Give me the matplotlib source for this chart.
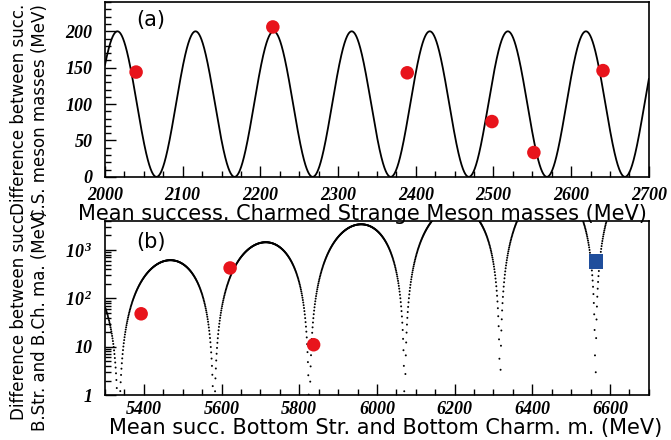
import numpy as np
import matplotlib
matplotlib.use("Agg")
import matplotlib.pyplot as plt
from matplotlib.ticker import MultipleLocator, FixedLocator, NullFormatter

plt.rcParams['mathtext.fontset'] = 'custom'
plt.rcParams['mathtext.rm'] = 'Liberation Serif:bold:italic'
plt.rcParams['mathtext.it'] = 'Liberation Serif:bold:italic'

# charmed strange mesons: mean mass vs mass difference
cs_mean = [2040, 2216, 2389, 2498, 2552, 2641]
cs_diff = [144, 206, 143, 76, 33.5, 146]

# bottom strange / bottom charm mesons
bs_mean = [5393, 5622, 5837]
bs_diff = [48, 425, 11]
bc_mean = [6564]
bc_diff = [575]

# model curve parameters (peak height, period, first peak / first zero)
cs_amp = 200.0
cs_period = 100.5
cs_peak = 2016.0

b_period = 245.5
b_zero = 5335.0
b_ref = 5465.0
b_amp_ref = 620.0
b_growth = 2.35   # peak ratio between neighbouring arches

tick_size = 13
xlab_size = 15
ylab_size = 12

fig = plt.figure(figsize=(6.71, 4.40), dpi=100)
ax1 = fig.add_axes([0.1565, 0.598, 0.8105, 0.397])
ax2 = fig.add_axes([0.1565, 0.102, 0.8105, 0.396])

# (a)
x = np.linspace(2000, 2700, 3000)
y = cs_amp * np.cos(np.pi * (x - cs_peak) / cs_period) ** 2
ax1.plot(x, y, color='black', lw=1.3)
ax1.scatter(cs_mean, cs_diff, s=95, color='#e8141c', zorder=3, edgecolors='none')
ax1.set_xlim(2000, 2700)
ax1.set_ylim(0, 240)
ax1.xaxis.set_major_locator(MultipleLocator(100))
ax1.xaxis.set_minor_locator(MultipleLocator(25))
ax1.yaxis.set_major_locator(FixedLocator([0, 50, 100, 150, 200]))
ax1.yaxis.set_minor_locator(MultipleLocator(10))
ax1.text(0.085, 0.9, '(a)', transform=ax1.transAxes, fontsize=15, ha='center', va='center')

# (b)
xb = np.arange(5300.3, 6700, 1.0)
amp = b_amp_ref * np.exp(np.log(b_growth) * (xb - b_ref) / b_period)
yb = amp * np.sin(np.pi * (xb - b_zero) / b_period) ** 2
ax2.scatter(xb, yb, s=2.0, color='black', edgecolors='none')
ax2.scatter(bs_mean, bs_diff, s=95, color='#e8141c', zorder=3, edgecolors='none')
ax2.scatter(bc_mean, bc_diff, s=110, marker='s', color='#1f4e9c', zorder=3, edgecolors='none')
ax2.set_yscale('log')
ax2.set_xlim(5300, 6700)
ax2.set_ylim(1, 4000)
ax2.xaxis.set_major_locator(MultipleLocator(200))
ax2.xaxis.set_minor_locator(MultipleLocator(50))
ax2.yaxis.set_major_locator(FixedLocator([1, 10, 100, 1000]))
ax2.yaxis.set_minor_locator(FixedLocator([m * 10 ** e for e in range(0, 4) for m in range(2, 10)]))
ax2.yaxis.set_minor_formatter(NullFormatter())
ax2.set_yticklabels(['1', '10', '10$^{\\,2}$', '10$^{\\,3}$'])
ax2.text(0.085, 0.88, '(b)', transform=ax2.transAxes, fontsize=15, ha='center', va='center')

for ax in (ax1, ax2):
    ax.tick_params(which='both', direction='in', top=False, right=False)
    ax.tick_params(which='major', length=8, width=1)
    ax.tick_params(which='minor', length=4, width=1)
    ax.tick_params(axis='y', pad=9)
    for sp in ax.spines.values():
        sp.set_linewidth(1.2)
    for lbl in ax.get_xticklabels() + ax.get_yticklabels():
        lbl.set_fontfamily('Liberation Serif')
        lbl.set_fontweight('bold')
        lbl.set_fontstyle('italic')
        lbl.set_fontsize(tick_size)
ax1.tick_params(axis='x', pad=7)
ax2.tick_params(axis='x', pad=4)

# axis titles placed in figure pixels, like the original ROOT canvas
W, H = 671.0, 440.0
def ftext(px, py, s, size, rot=0):
    fig.text(px / W, 1 - py / H, s, fontsize=size, family='DejaVu Sans',
             rotation=rot, ha='center', va='center')

ftext(362, 214, 'Mean success. Charmed Strange Meson masses (MeV)', xlab_size)
ftext(386, 428, 'Mean succ. Bottom Str. and Bottom Charm. m. (MeV)', xlab_size)
ftext(19, 109, 'Difference between succ.', ylab_size, 90)
ftext(40, 112, 'C.S. meson masses (MeV)', ylab_size, 90)
ftext(19, 314, 'Difference between succ.', ylab_size, 90)
ftext(40, 321, 'B.Str. and B.Ch. ma. (MeV)', ylab_size, 90)

fig.savefig('out.png', dpi=100)
